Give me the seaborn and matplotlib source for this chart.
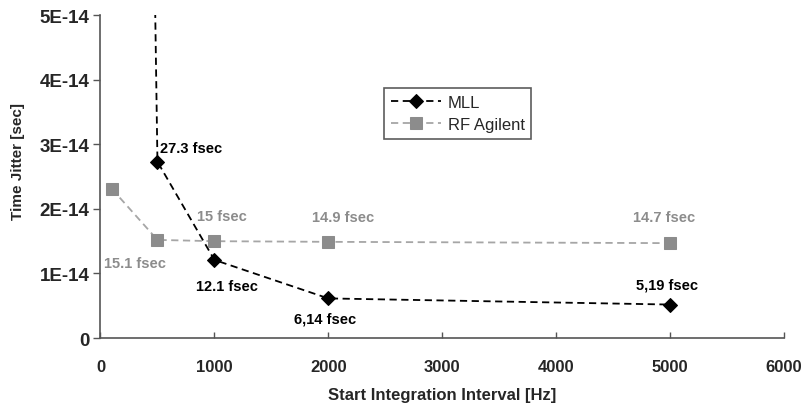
import pandas as pd
import seaborn as sns
import matplotlib.pyplot as plt

# start of integration interval [Hz] and measured jitter [sec]
mll_x = [100, 500, 1000, 2000, 5000]
mll_y = [5.0e-13, 2.73e-14, 1.21e-14, 0.614e-14, 0.519e-14]
mll_labels = ['', '27.3 fsec', '12.1 fsec', '6,14 fsec', '5,19 fsec']

rf_x = [100, 500, 1000, 2000, 5000]
rf_y = [2.31e-14, 1.52e-14, 1.50e-14, 1.49e-14, 1.47e-14]
rf_labels = ['', '15.1 fsec', '15 fsec', '14.9 fsec', '14.7 fsec']

xticks = [0, 1000, 2000, 3000, 4000, 5000, 6000]
yticks = [0, 1e-14, 2e-14, 3e-14, 4e-14, 5e-14]
ytick_labels = ['0', '1E-14', '2E-14', '3E-14', '4E-14', '5E-14']

sns.set_style('white')
plt.rcParams['font.family'] = ['Liberation Sans', 'DejaVu Sans']

mll = pd.DataFrame({'x': mll_x, 'y': mll_y})
rf = pd.DataFrame({'x': rf_x, 'y': rf_y})

fig = plt.figure(figsize=(8.04, 4.14), dpi=100)
ax = fig.add_axes([0.125, 0.181, 0.85, 0.78])

sns.lineplot(data=mll, x='x', y='y', ax=ax, color='black', linestyle=(0, (4, 2.5)),
             linewidth=1.3, marker='D', markersize=7, markeredgecolor='black',
             label='MLL', sort=False)
sns.lineplot(data=rf, x='x', y='y', ax=ax, color='#a6a6a6', linestyle=(0, (4, 2.5)),
             linewidth=1.3, marker='s', markersize=8, markerfacecolor='#8c8c8c',
             markeredgecolor='#8c8c8c', label='RF Agilent', sort=False)

ax.set_xlim(0, 6000)
ax.set_ylim(0, 5e-14)
ax.set_xticks(xticks)
ax.set_xticklabels([str(t) for t in xticks])
ax.set_yticks(yticks)
ax.set_yticklabels(ytick_labels)

for t in ax.get_xticklabels():
    t.set_fontweight('bold')
    t.set_fontsize(12)
for t in ax.get_yticklabels():
    t.set_fontweight('bold')
    t.set_fontsize(13.5)

ax.tick_params(axis='x', direction='in', length=4, width=1, color='#555555', pad=15)
ax.tick_params(axis='y', direction='out', length=5, width=1, color='#555555', pad=3)
ax.tick_params(bottom=True, left=True)
for s in ['top', 'right']:
    ax.spines[s].set_visible(False)
for s in ['left', 'bottom']:
    ax.spines[s].set_color('#555555')
    ax.spines[s].set_linewidth(1.2)

ax.set_xlabel('Start Integration Interval [Hz]', fontsize=12, fontweight='bold')
ax.set_ylabel('Time Jitter [sec]', fontsize=11, fontweight='bold')
ax.xaxis.set_label_coords(0.5, -0.15)
ax.yaxis.set_label_coords(-0.11, 0.55)

# data labels (pixel offsets from each point)
mll_off = [(0, 0), (3, 14), (13, -26), (-3, -20), (-3, 20)]
mll_ha = ['center', 'left', 'center', 'center', 'center']
for x, y, lab, off, ha in zip(mll_x, mll_y, mll_labels, mll_off, mll_ha):
    if lab:
        ax.annotate(lab, (x, y), xytext=off, textcoords='offset pixels',
                    ha=ha, va='center', fontsize=10.5, fontweight='bold', color='black')

rf_off = [(0, 0), (-23, -23), (7, 25), (15, 25), (-6, 26)]
for x, y, lab, off in zip(rf_x, rf_y, rf_labels, rf_off):
    if lab:
        ax.annotate(lab, (x, y), xytext=off, textcoords='offset pixels',
                    ha='center', va='center', fontsize=10.5, fontweight='bold', color='#8c8c8c')

leg = ax.legend(loc='upper left', bbox_to_anchor=(0.403, 0.80), fontsize=12,
                frameon=True, fancybox=False, handlelength=3.0, borderpad=0.4,
                labelspacing=0.45, handletextpad=0.4)
leg.get_frame().set_edgecolor('#333333')
leg.get_frame().set_linewidth(1.2)

plt.savefig('out.png', dpi=100)
